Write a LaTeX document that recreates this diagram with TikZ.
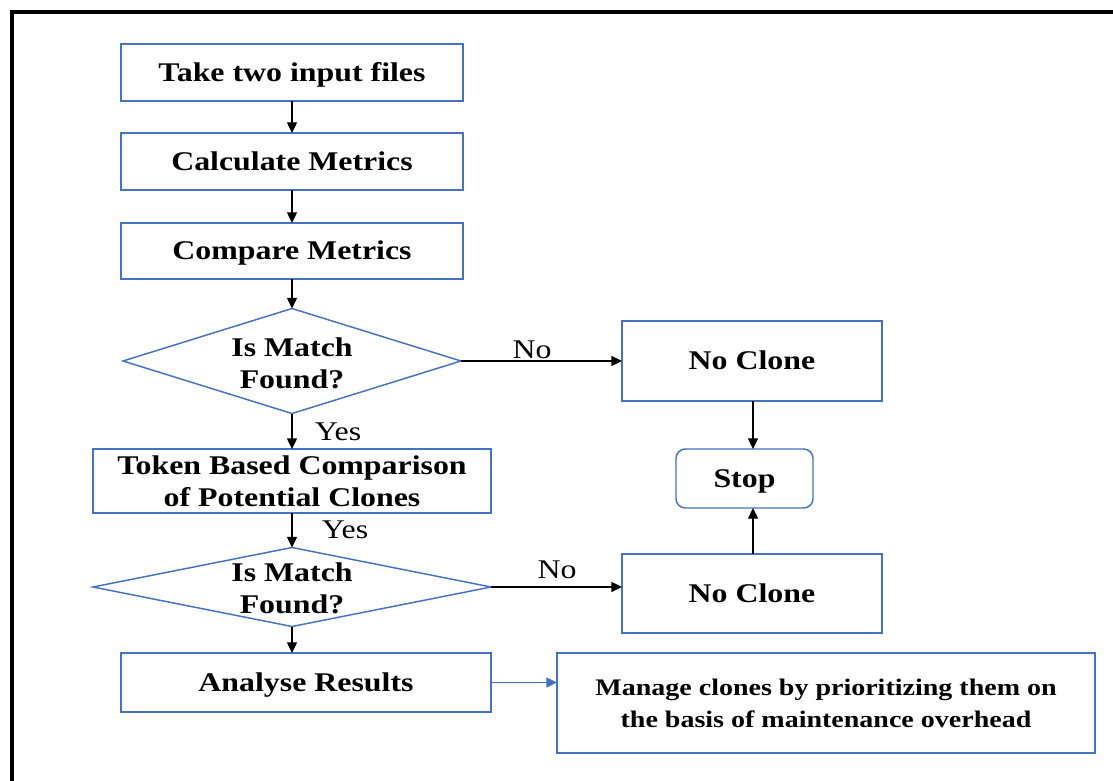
\documentclass[tikz,border=0pt]{standalone}
\usepackage{fontspec}
\setmainfont{Liberation Serif}[FakeStretch=1.18]
\usetikzlibrary{shapes.geometric,arrows.meta}
\definecolor{boxblue}{HTML}{4472C4}
\begin{document}
\begin{tikzpicture}[x=0.75pt,y=-0.75pt,
  every node/.style={inner sep=0pt, outer sep=0pt},
  procbox/.style={draw=boxblue, line width=1.1pt, rectangle, font=\bfseries\fontsize{20.25}{24}\selectfont, align=center},
  oneline/.style={procbox, text height=17pt, text depth=4pt},
  stopbox/.style={oneline, rounded corners=7pt},
  decbox/.style={draw=boxblue, line width=1.1pt, diamond},
  dectext/.style={font=\bfseries\fontsize{20.25}{24}\selectfont, align=center},
  mgbox/.style={procbox, font=\bfseries\fontsize{17.8}{24}\selectfont},
  edgelabel/.style={font=\fontsize{20.25}{24}\selectfont},
  conn/.style={line width=1pt, -{Triangle[length=8pt,width=7.5pt]}},
  blueconn/.style={draw=boxblue, line width=1pt, -{Triangle[length=8pt,width=7.5pt]}}]
\useasboundingbox (0,0) rectangle (1113,781);
% outer frame
\draw[line width=3pt] (11.5,790) -- (11.5,12.5) -- (1120,12.5);

\node[oneline, minimum width=256.5pt, minimum height=42.75pt] (b1) at (292,72.5) {Take two input files};
\node[oneline, minimum width=256.5pt, minimum height=42.75pt] (b2) at (292,161.5) {Calculate Metrics};
\node[oneline, minimum width=256.5pt, minimum height=42pt] (b3) at (292,251) {Compare Metrics};
\node[decbox, minimum width=253.5pt, minimum height=78.75pt] (d1) at (292,361) {};
\node[dectext] (d1t) at (292,363) {Is Match\\Found?};
\node[procbox, minimum width=298.5pt, minimum height=48pt] (b4) at (292,481) {Token Based Comparison\\of Potential Clones};
\node[decbox, minimum width=298.5pt, minimum height=59.25pt] (d2) at (292,587) {};
\node[dectext] (d2t) at (292,588) {Is Match\\Found?};
\node[oneline, minimum width=277.5pt, minimum height=44.25pt] (b5) at (306,682.5) {Analyse Results};

\node[oneline, minimum width=195pt, minimum height=60pt] (nc1) at (752,361) {No Clone};
\node[stopbox, minimum width=102.75pt, minimum height=44.25pt] (stop) at (744.5,478.5) {Stop};
\node[oneline, minimum width=195pt, minimum height=59.25pt] (nc2) at (752,593.5) {No Clone};
\node[mgbox, minimum width=403.5pt, minimum height=75pt] (mg) at (826,703) {Manage clones by prioritizing them on\\the basis of maintenance overhead};

\draw[conn] (b1) -- (b2);
\draw[conn] (b2) -- (b3);
\draw[conn] (b3) -- (d1.north);
\draw[conn] (d1.south) -- (b4.north);
\draw[conn] (b4) -- (d2.north);
\draw[conn] (d2.south) -- (d2.south |- b5.north);
\draw[conn] (d1.east) -- (nc1.west);
\draw[conn] (d2.east) -- (d2.east -| nc2.west);
\draw[conn] (nc1.south -| 753,0) -- (stop.north -| 753,0);
\draw[conn] (nc2.north -| 753,0) -- (stop.south -| 753,0);
\draw[blueconn] (b5.east) -- (b5.east -| mg.west);

\node[edgelabel] (yes1) at (338,432) {Yes};
\node[edgelabel] (yes2) at (345,530) {Yes};
\node[edgelabel] (no1) at (532,350) {No};
\node[edgelabel] (no2) at (557,570) {No};
\end{tikzpicture}
\end{document}
